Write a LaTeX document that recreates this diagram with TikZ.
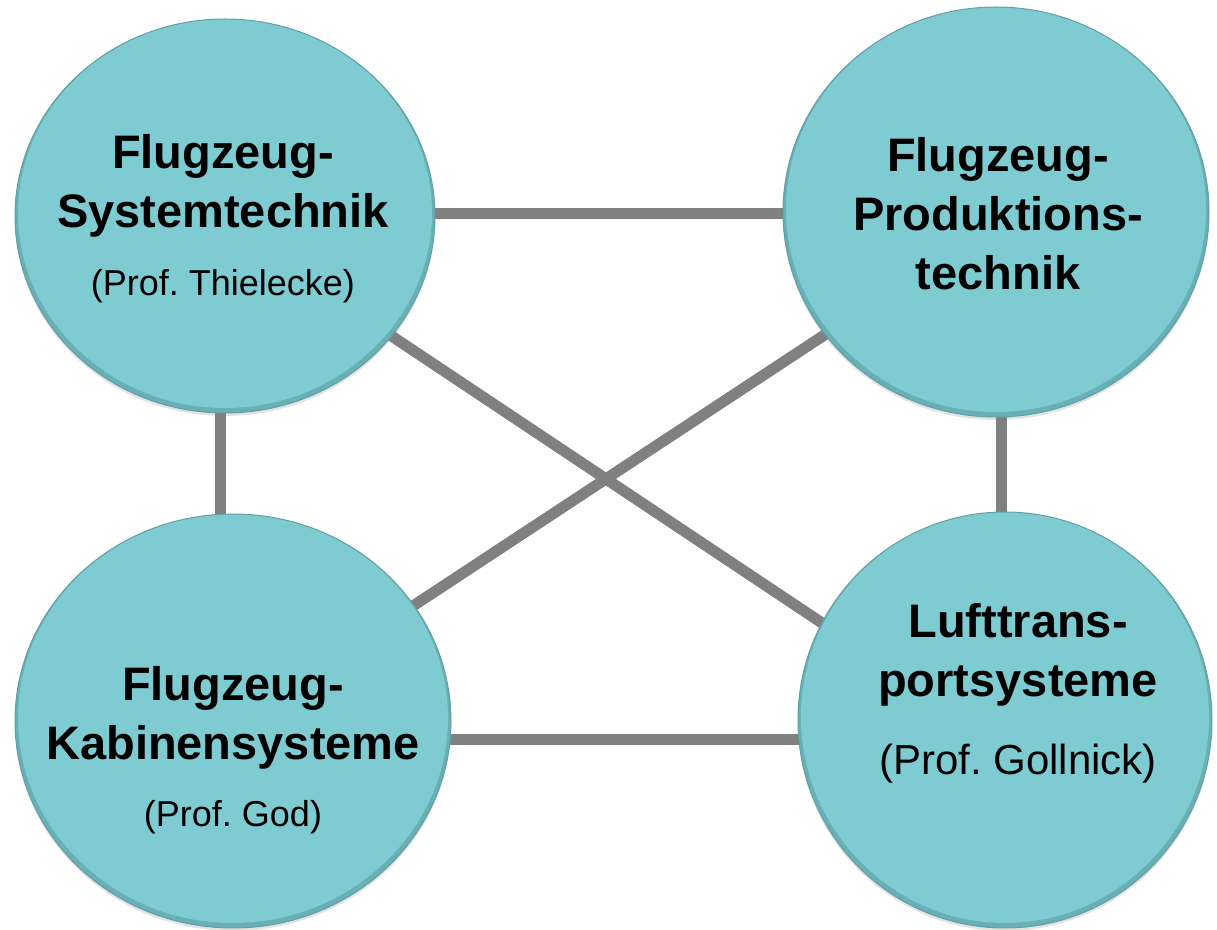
\documentclass[tikz,border=0pt]{standalone}
\usepackage{fontspec}
\setmainfont{Liberation Sans}
\usetikzlibrary{shapes.geometric,calc,backgrounds,shadows}
\definecolor{discfill}{RGB}{126,204,209}
\definecolor{disclight}{RGB}{160,224,229}
\definecolor{discdark}{RGB}{104,176,182}
\definecolor{discedge}{RGB}{96,160,166}
\definecolor{linkgray}{RGB}{128,128,128}
\tikzset{
  disc/.style={ellipse, fill=discdark, draw=discedge, line width=0.5pt, inner sep=0pt,
    drop shadow={opacity=0.22, shadow xshift=0pt, shadow yshift=-1.5pt},
    path picture={
      \path let \p1=($(path picture bounding box.north east)-(path picture bounding box.south west)$) in
        [fill=disclight] ([yshift=1.5pt]path picture bounding box.center)
          ellipse [x radius=\x1/2-1.5pt, y radius=\y1/2-1.5pt]
        [fill=discfill] ([yshift=-0.5pt]path picture bounding box.center)
          ellipse [x radius=\x1/2-3pt, y radius=\y1/2-3pt];
    }},
  title/.style={align=center, inner sep=0pt,
    font=\fontsize{23.5}{29.5}\selectfont\bfseries},
  link/.style={draw=linkgray, line width=5.5pt}
}
\newcommand{\prof}[2][18]{{\fontsize{#1}{#1}\selectfont\mdseries #2}}

\begin{document}
\begin{tikzpicture}[x=0.5pt, y=-0.5pt]
  \useasboundingbox (0,0) rectangle (1217,930);
  % the four chairs
  \node[disc, minimum width=210pt, minimum height=197pt] (tl) at (225,216) {};
  \node[disc, minimum width=213pt, minimum height=205pt] (tr) at (996,212) {};
  \node[disc, minimum width=218pt, minimum height=207pt] (bl) at (233,721) {};
  \node[disc, minimum width=207pt, minimum height=208pt] (br) at (1005,720) {};
  % names
  \node[title] (tltext) at ($(tl.center)+(-2,2.5)$)
    {Flugzeug-\\Systemtechnik\\[4.5pt]\prof{(Prof.\ Thielecke)}};
  \node[title] (trtext) at ($(tr.center)+(2,2)$)
    {Flugzeug-\\Produktions-\\technik};
  \node[title] (bltext) at ($(bl.center)+(0,29)$)
    {Flugzeug-\\Kabinensysteme\\[4pt]\prof{(Prof.\ God)}};
  \node[title] (brtext) at ($(br.center)+(13,-27)$)
    {Lufttrans-\\portsysteme\\[9.5pt]\prof[21]{(Prof.\ Gollnick)}};
  % links behind the discs
  \begin{scope}[on background layer]
    \draw[link] ($(tl.center)+(0,-2)$) -- ($(tr.center)+(0,2)$);
    \draw[link] ($(bl.center)+(0,19)$) -- ($(br.center)+(0,20)$);
    \draw[link] ($(tl.center)+(-5,0)$) -- ($(bl.center)+(-13,0)$);
    \draw[link] ($(tr.center)+(5,0)$) -- ($(br.center)+(-4,0)$);
    \draw[link] ($(tl.center)+(0,9)$) -- ($(br.center)+(0,25)$);
    \draw[link] ($(tr.center)+(0,10)$) -- ($(bl.center)+(0,3.5)$);
  \end{scope}
\end{tikzpicture}
\end{document}
